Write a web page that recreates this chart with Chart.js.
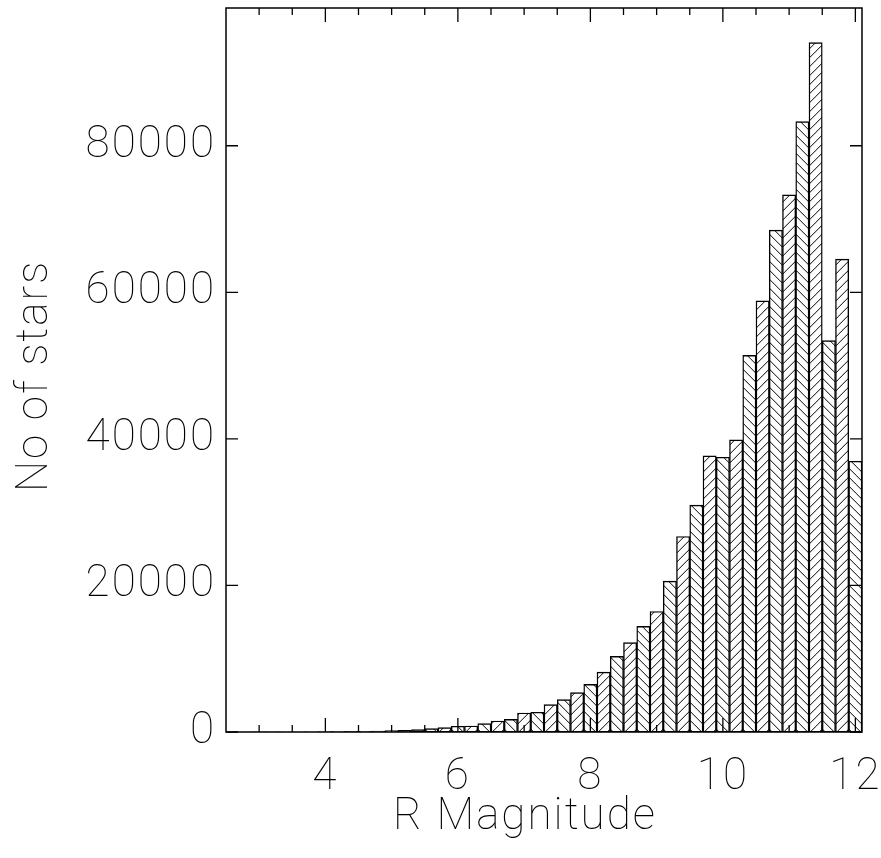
<!DOCTYPE html>
<html>
<head>
<meta charset="utf-8">
<script src="https://cdn.jsdelivr.net/npm/chart.js@4/dist/chart.umd.min.js"></script>
<style>
  html, body { margin: 0; padding: 0; background: #fff; }
  #wrap { width: 881px; height: 858px; position: relative; }
</style>
</head>
<body>
<div id="wrap"><canvas id="chart"></canvas></div>
<script>
// R magnitude bins (centres, 0.2 mag wide) and star counts
const binCenters = [2.6, 2.8, 3.0, 3.2, 3.4, 3.6, 3.8, 4.0, 4.2, 4.4, 4.6, 4.8,
  5.0, 5.2, 5.4, 5.6, 5.8, 6.0, 6.2, 6.4, 6.6, 6.8, 7.0, 7.2, 7.4, 7.6, 7.8,
  8.0, 8.2, 8.4, 8.6, 8.8, 9.0, 9.2, 9.4, 9.6, 9.8, 10.0, 10.2, 10.4, 10.6,
  10.8, 11.0, 11.2, 11.4, 11.6, 11.8, 12.0];
const starCounts = [3, 5, 8, 12, 17, 24, 32, 42, 55, 75, 100, 130,
  190, 230, 330, 460, 600, 780, 820, 1140, 1500, 1730, 2590, 2690, 3730, 4420, 5370,
  6500, 8180, 10320, 12190, 14410, 16450, 20590, 26680, 30950, 37680, 37490, 39860, 51400, 58840,
  68490, 73300, 83300, 94070, 53400, 64540, 36950];
const binWidth = 0.2;

const xTickLabels = [4, 6, 8, 10, 12];
const xMinorTicks = [3, 3.5, 4.5, 5, 5.5, 6.5, 7, 7.5, 8.5, 9, 9.5, 10.5, 11, 11.5];
const yTickLabels = [0, 20000, 40000, 60000, 80000];
const xRange = [2.5, 12.1];
const yRange = [0, 98800];

const FONT = 'Roboto, "DejaVu Sans", sans-serif';
const FONT_SIZE = 44;
const SPACING = '2px';
const HATCH = 9;

// hatch tiles: "\" and "/" diagonals, anchored so neighbours zig-zag
function hatchTile(dir) {
  const c = document.createElement('canvas');
  c.width = HATCH; c.height = HATCH;
  const g = c.getContext('2d');
  g.strokeStyle = '#000';
  g.lineWidth = 1;
  g.beginPath();
  for (let k = -1; k <= 2; k++) {
    if (dir === 'back') { g.moveTo(k * HATCH, 0); g.lineTo(k * HATCH + HATCH, HATCH); }
    else { g.moveTo(k * HATCH, 0); g.lineTo(k * HATCH - HATCH, HATCH); }
  }
  g.stroke();
  return c;
}
const tiles = { back: hatchTile('back'), fwd: hatchTile('fwd') };

function barFill(ctx) {
  const chart = ctx.chart;
  const xs = chart.scales.x;
  if (!xs || ctx.raw == null) return '#fff';
  const fwd = ctx.dataIndex % 2 === 0;
  const edge = fwd ? xs.getPixelForValue(ctx.raw.x + binWidth / 2) : xs.getPixelForValue(ctx.raw.x - binWidth / 2);
  const pat = chart.ctx.createPattern(fwd ? tiles.fwd : tiles.back, 'repeat');
  pat.setTransform(new DOMMatrix().translate(edge, 0));
  return pat;
}

// wider letter spacing, closer to the plotter font
const spacing = {
  id: 'spacing',
  beforeLayout(chart) { chart.ctx.letterSpacing = SPACING; },
  beforeDraw(chart) { chart.ctx.letterSpacing = SPACING; }
};

// box frame, inward ticks on all four sides, axis titles
const frame = {
  id: 'frame',
  afterDatasetsDraw(chart) {
    const { ctx, chartArea: a, scales: { x, y } } = chart;
    ctx.save();
    ctx.strokeStyle = '#000';
    ctx.lineWidth = 1.3;
    ctx.beginPath();
    const tick = (px, len) => {
      ctx.moveTo(px, a.bottom); ctx.lineTo(px, a.bottom - len);
      ctx.moveTo(px, a.top); ctx.lineTo(px, a.top + len);
    };
    xTickLabels.forEach(v => tick(x.getPixelForValue(v), 14));
    xMinorTicks.forEach(v => tick(x.getPixelForValue(v), 7));
    yTickLabels.forEach(v => {
      const py = y.getPixelForValue(v);
      ctx.moveTo(a.left, py); ctx.lineTo(a.left + 12, py);
      ctx.moveTo(a.right, py); ctx.lineTo(a.right - 12, py);
    });
    ctx.stroke();
    ctx.lineWidth = 1.5;
    ctx.strokeRect(a.left, a.top, a.right - a.left, a.bottom - a.top);

    ctx.fillStyle = '#000';
    ctx.letterSpacing = SPACING;
    ctx.font = '100 ' + FONT_SIZE + 'px ' + FONT;
    ctx.textAlign = 'center';
    ctx.textBaseline = 'middle';
    ctx.fillText('R Magnitude', 525, 818);
    ctx.translate(36, 376);
    ctx.rotate(-Math.PI / 2);
    ctx.fillText('No of stars', 0, 0);
    ctx.restore();
  }
};

new Chart(document.getElementById('chart'), {
  type: 'bar',
  data: {
    datasets: [{
      data: binCenters.map((m, i) => ({ x: m, y: starCounts[i] })),
      backgroundColor: barFill,
      borderColor: '#000',
      borderWidth: 0.75,
      borderSkipped: false,
      barPercentage: 1,
      categoryPercentage: 1
    }]
  },
  options: {
    responsive: true,
    maintainAspectRatio: false,
    animation: false,
    layout: { padding: { top: 8, right: 19, left: 0, bottom: 0 } },
    plugins: { legend: { display: false }, tooltip: { enabled: false } },
    scales: {
      x: {
        type: 'linear',
        offset: false,
        min: xRange[0], max: xRange[1],
        grid: { display: false, drawTicks: false, offset: false },
        border: { display: false },
        afterBuildTicks: s => { s.ticks = xTickLabels.map(v => ({ value: v })); },
        afterFit: s => { s.height = 126; s.paddingLeft = 0; s.paddingRight = 0; },
        ticks: {
          color: '#000', padding: 20,
          font: { family: FONT, size: FONT_SIZE, weight: '100' },
          maxRotation: 0, autoSkip: false
        }
      },
      y: {
        min: yRange[0], max: yRange[1],
        grid: { display: false, drawTicks: false },
        border: { display: false },
        afterBuildTicks: s => { s.ticks = yTickLabels.map(v => ({ value: v })); },
        afterFit: s => { s.width = 226; s.paddingTop = 0; s.paddingBottom = 0; },
        ticks: {
          color: '#000', padding: 10,
          font: { family: FONT, size: FONT_SIZE, weight: '100' },
          callback: v => String(v)
        }
      }
    }
  },
  plugins: [spacing, frame]
});
</script>
</body>
</html>
